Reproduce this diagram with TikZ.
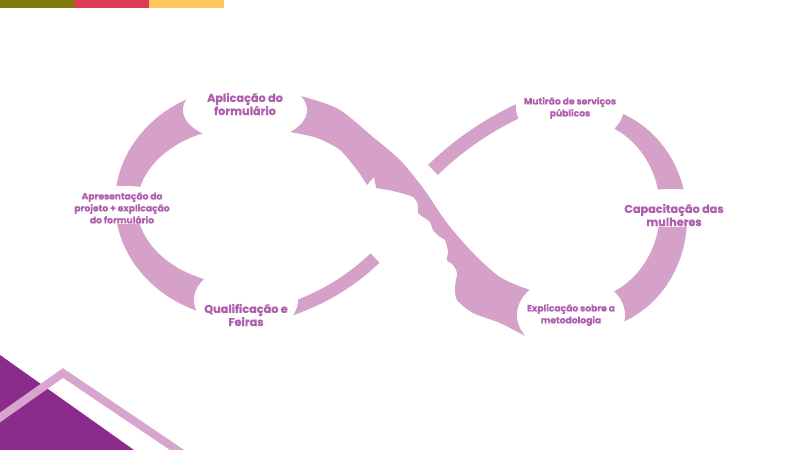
\documentclass[tikz,border=0pt]{standalone}
\usepackage{fontspec}
\setmainfont{Poppins}[BoldFeatures={FakeBold=0.6}]
\usetikzlibrary{positioning}
\definecolor{bandpink}{HTML}{D6A1C8}
\definecolor{labelpurple}{HTML}{B05EAE}
\definecolor{deeppurple}{HTML}{8B2B8C}
\definecolor{chevronpink}{HTML}{D7A5CE}
\definecolor{barolive}{HTML}{7C7B0C}
\definecolor{barred}{HTML}{DF3B55}
\definecolor{baryellow}{HTML}{FFC65B}
\tikzset {
  % pink ribbon of the loop
  band/.style = {
    fill = bandpink
  },
  % thin part of the ribbon, passing under
  strand/.style = {
    draw = bandpink,
    line cap = butt
  },
  % white oval behind a label, cuts the ribbon
  gap/.style = {
    fill = white
  },
  label text/.style = {
    text = labelpurple,
    align = center,
    inner sep = 0
  },
  big label/.style = {
    label text,
    font = \fontsize{9.6}{11.2}\selectfont\bfseries
  },
  small label/.style = {
    label text,
    font = \fontsize{7.8}{10.2}\selectfont\bfseries
  }
}

\begin{document}
\begin{tikzpicture}[x=0.3mm, y=-0.3mm]
    \useasboundingbox (0,0) rectangle (800,450);

    % colour bars
    \fill[barolive] (0,0) rectangle (74,8);
    \fill[barred] (74,0) rectangle (149,8);
    \fill[baryellow] (149,0) rectangle (224,8);

    % corner
    \fill[deeppurple] (0,355) -- (134,450) -- (0,450) -- cycle;
    \draw[chevronpink, line width=2.4mm] (-5,421) -- (63,373) -- (186,456);

    % left loop
    \begin{scope}
      \clip (0,0) rectangle (250,450);
      \fill[band, even odd rule] (245,203) ellipse [x radius=130, y radius=116]
                                 (245,206) ellipse [x radius=108, y radius=79];
    \end{scope}

    % right loop
    \begin{scope}
      \clip (590,0) rectangle (800,450);
      \fill[band, even odd rule] (585,218) ellipse [x radius=102, y radius=112]
                                 (580,210) ellipse [x radius=80, y radius=90];
    \end{scope}

    % strand under the crossing
    \draw[strand, line width=3.9mm] (285,311) .. controls (320,300) and (350,282) .. (375,258);
    \draw[strand, line width=4.2mm] (433,170) .. controls (455,148) and (490,122) .. (532,105);

    % strand over the crossing, with the face
    \fill[band] plot[smooth, tension=0.45] coordinates {
        (240,86) (270,90) (308,98) (340,110) (373,137) (400,160) (423,188)
        (447,223) (473,253) (500,277) (530,290) (552,294)}
      -- plot[smooth, tension=0.45] coordinates {
        (552,343) (530,338) (500,323) (473,313) (457,300) (455,287) (457,273)
        (453,265) (447,260) (448,252) (445,240) (440,237) (433,230) (430,222)
        (423,217) (418,213) (418,205) (413,197) (397,192) (388,190) (376,188)}
      -- (374,177) -- (367,185)
      -- plot[smooth, tension=0.45] coordinates {
        (367,185) (357,170) (340,150) (317,138) (290,132) (260,128) (240,127)}
      -- cycle;

    % ovals behind the labels
    \fill[gap] (245,110) ellipse [x radius=62, y radius=32];
    \fill[gap] (124,205) ellipse [x radius=55, y radius=19];
    \fill[gap] (246,300) ellipse [x radius=52, y radius=35];
    \fill[gap] (570,107) ellipse [x radius=54, y radius=38];
    \fill[gap] (672,208) ellipse [x radius=55, y radius=19];
    \fill[gap] (571,315) ellipse [x radius=54, y radius=39];

    \node[big label] (apply) at (245,104) {Aplicação do\\formulário};
    \node[small label] (present) at (122,208) {Apresentação do\\projeto + explicação\\do formulário};
    \node[big label] (qualify) at (246,315) {Qualificação e\\Feiras};
    \node[small label] (task) at (570,108) {Mutirão de serviços\\públicos};
    \node[big label] (train) at (674,215) {Capacitação das\\mulheres};
    \node[small label] (method) at (571,315) {Explicação sobre a\\metodologia};
\end{tikzpicture}
\end{document}
